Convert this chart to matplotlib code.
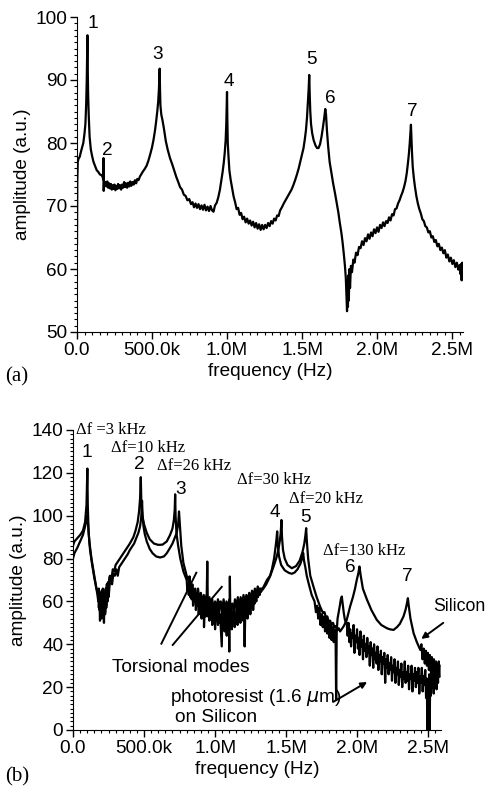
import matplotlib
matplotlib.use("Agg")
import matplotlib.pyplot as plt
from matplotlib.ticker import MultipleLocator

plt.rcParams['font.family'] = ['Liberation Sans', 'DejaVu Sans']

# ---------------- panel (a) data: (frequency kHz, amplitude a.u.) ----------------
a_points = [
    (0, 64), (2, 74), (5, 77), (10, 77.5), (18, 77.8), (25, 78.5), (33, 79.2), (42, 80),
    (50, 81.5), (56, 83), (61, 86), (65, 90), (68, 95), (69.5, 97.1), (71, 93), (74, 88),
    (78, 84.5), (84, 81), (92, 79), (100, 78), (110, 77), (121, 76.3), (131, 75.7),
    (142, 75.4), (153, 75), (164, 74.9), (171, 74.6), (175, 74.2), (176.5, 77.6),
    (178, 72.4), (180, 74), (185, 73.3), (190, 73.8), (196, 73.1), (202, 73.9), (208, 72.9),
    (214, 73.6), (220, 72.8), (226, 73.5), (232, 72.6), (238, 73.3), (244, 72.7),
    (250, 73.4), (256, 72.5), (262, 73.2), (268, 72.7), (274, 73.5), (280, 72.8),
    (287, 73.3), (294, 72.6), (300, 73.4), (307, 72.9), (314, 73.8), (320, 73), (327, 73.6),
    (334, 72.9), (341, 73.7), (348, 73.1), (355, 73.9), (362, 73.2), (370, 73.8),
    (378, 73.4), (386, 74.1), (394, 73.6), (402, 74.3), (410, 74.1), (420, 74.7),
    (430, 75.1), (440, 75.5), (452, 75.9), (464, 76.4), (476, 77.2), (488, 78.2),
    (500, 79.3), (510, 80.5), (520, 82), (528, 83.5), (535, 85), (541, 86.5), (546, 88.5),
    (549, 90.5), (551, 91.8), (553, 89), (556, 86), (562, 84.5), (570, 83.6), (580, 82.2),
    (592, 80.3), (605, 78.9), (620, 77.6), (635, 76.6), (650, 75.5), (662, 74.6),
    (675, 73.8), (687, 73), (700, 72.6), (712, 71.8), (724, 71.6), (736, 70.9), (748, 71.1),
    (760, 70.3), (770, 70.6), (780, 69.8), (790, 70.4), (800, 69.7), (810, 70.3),
    (820, 69.5), (830, 70.1), (840, 69.4), (850, 70.2), (860, 69.3), (870, 69.9),
    (880, 69.2), (890, 70), (900, 69.3), (910, 69.1), (920, 70.1), (931, 70.5), (942, 71.4),
    (952, 72.5), (962, 74), (970, 75.3), (978, 76.8), (985, 78.5), (991, 80.5), (995, 83),
    (998, 86), (1000, 88.1), (1002, 84), (1005, 80), (1010, 77.8), (1016, 75.6),
    (1024, 74.2), (1034, 72.8), (1044, 71.5), (1054, 70.6), (1064, 69.5), (1074, 69.7),
    (1084, 68.6), (1094, 68.9), (1104, 67.9), (1114, 68.3), (1124, 67.4), (1134, 68),
    (1144, 67.2), (1154, 67.7), (1164, 66.9), (1174, 67.5), (1184, 66.6), (1194, 67.3),
    (1204, 66.4), (1214, 67.1), (1224, 66.2), (1234, 67), (1244, 66.3), (1254, 67),
    (1264, 66.5), (1274, 67.3), (1284, 66.8), (1294, 67.6), (1304, 67.2), (1314, 68),
    (1324, 67.7), (1334, 68.5), (1344, 68.4), (1354, 69.3), (1366, 69.8), (1378, 70.4),
    (1390, 70.9), (1402, 71.4), (1416, 72), (1430, 72.6), (1442, 73.3), (1454, 74.1),
    (1466, 75), (1478, 76), (1490, 77.2), (1500, 78.2), (1510, 79.2), (1518, 80.5),
    (1526, 82), (1533, 84), (1539, 86.5), (1544, 88.5), (1548, 90.8), (1551, 88),
    (1555, 85), (1560, 83), (1568, 81.5), (1578, 80.4), (1590, 79.6), (1600, 79.2),
    (1610, 79.2), (1620, 79.8), (1630, 81), (1640, 82.6), (1648, 84), (1655, 85.4),
    (1660, 84.5), (1666, 82), (1674, 79.5), (1684, 77), (1696, 75.2), (1708, 73.5),
    (1720, 72), (1731, 70.5), (1742, 69), (1752, 67.3), (1762, 65.8), (1770, 64.3),
    (1778, 62.5), (1786, 60.5), (1792, 58.5), (1797, 55.5), (1800, 53.3), (1803, 57.5),
    (1806, 54), (1809, 59), (1812, 55), (1816, 60), (1820, 57), (1826, 60.5), (1833, 59.5),
    (1842, 61.5), (1850, 61), (1860, 62.6), (1870, 62.2), (1880, 63.5), (1890, 63.3),
    (1900, 64.4), (1910, 63.8), (1920, 64.9), (1930, 64.4), (1940, 65.5), (1950, 64.8),
    (1960, 65.8), (1970, 65.2), (1980, 66.3), (1990, 65.7), (2000, 66.6), (2010, 65.9),
    (2020, 67), (2030, 66.5), (2040, 67.4), (2050, 66.8), (2060, 67.6), (2070, 67.3),
    (2080, 68.2), (2090, 67.7), (2100, 68.7), (2110, 68.5), (2120, 69.5), (2130, 69.6),
    (2140, 70.4), (2150, 70.9), (2160, 71.6), (2170, 72.2), (2180, 73), (2190, 74),
    (2198, 75.2), (2205, 76.6), (2212, 78.2), (2218, 80), (2222, 81.5), (2226, 82.9),
    (2229, 81), (2233, 78.5), (2238, 76.2), (2245, 74.5), (2253, 73), (2262, 71.6),
    (2272, 70.4), (2282, 69.5), (2292, 68.8), (2302, 67.9), (2312, 67.6), (2322, 66.8),
    (2332, 66.6), (2342, 65.8), (2352, 66), (2362, 65), (2372, 65.2), (2382, 64.3),
    (2392, 64.6), (2402, 63.6), (2412, 64), (2422, 63), (2432, 63.4), (2442, 62.5),
    (2452, 63), (2462, 61.8), (2472, 62.3), (2482, 61.2), (2492, 61.8), (2502, 60.8),
    (2512, 61.4), (2522, 60.3), (2532, 61), (2542, 59.9), (2550, 60.6), (2556, 59.2),
    (2560, 60.8), (2564, 58.2), (2568, 61), (2572, 59),
]
a_freq = [p[0] for p in a_points]
a_amp = [p[1] for p in a_points]

a_peak_labels = ['1', '2', '3', '4', '5', '6', '7']
a_peak_freq = [105, 202, 535, 1015, 1565, 1687, 2235]
a_peak_amp = [99, 78.8, 94, 89.7, 93.3, 87.1, 85]

# ---------------- panel (b) data ----------------
# Silicon
si_points = [
    (0, 80), (10, 82.5), (30, 85), (50, 88), (70, 91), (85, 95), (95, 98), (100, 100),
    (106, 96), (115, 88), (130, 80), (145, 74), (160, 68), (172, 63), (178, 60), (182, 66),
    (186, 56), (190, 64), (194, 54), (198, 63), (202, 52), (206, 62), (210, 57), (214, 65),
    (218, 55), (222, 63), (226, 54), (230, 64), (234, 58), (238, 66), (242, 60), (246, 67),
    (252, 63), (258, 68), (265, 70), (275, 68), (284, 73), (295, 72), (305, 75), (315, 72),
    (325, 76), (340, 77.5), (355, 79), (370, 80.5), (385, 82), (400, 84), (415, 85.5),
    (430, 87), (445, 89.5), (460, 92), (472, 95), (480, 99), (486, 107), (490, 100),
    (496, 95), (505, 91.5), (519, 88), (540, 84.5), (560, 82.5), (585, 81), (613, 80.5),
    (640, 81), (660, 82.5), (683, 85), (700, 87), (715, 89.5), (730, 92), (740, 96),
    (746, 102), (750, 98), (755, 93), (762, 86), (777, 78), (800, 72), (824, 68), (850, 65),
    (871, 63), (880, 66), (890, 60), (900, 64), (910, 58), (920, 63), (930, 59), (940, 63),
    (950, 57), (960, 62), (970, 56), (980, 61), (990, 55), (1000, 60), (1010, 56),
    (1020, 61), (1030, 55), (1040, 60), (1050, 56), (1060, 61), (1070, 55), (1080, 60),
    (1090, 56), (1100, 61), (1110, 55), (1120, 59), (1130, 56), (1140, 61), (1150, 57),
    (1160, 62), (1170, 57), (1180, 62), (1190, 58), (1200, 63), (1210, 59), (1220, 63),
    (1230, 60), (1240, 64), (1250, 61), (1260, 65), (1270, 62), (1280, 66), (1290, 63),
    (1300, 67), (1317, 64), (1340, 66), (1360, 68), (1387, 71.7), (1410, 76), (1430, 80),
    (1445, 84), (1455, 88), (1462, 92), (1467, 98), (1471, 90), (1478, 84), (1490, 80),
    (1510, 77), (1540, 75.5), (1570, 76.5), (1595, 79), (1615, 83), (1628, 87), (1636, 91),
    (1641, 94.2), (1646, 88), (1655, 80), (1670, 72), (1692, 67), (1715, 62), (1739, 57.6),
    (1750, 56), (1760, 54.5), (1770, 55), (1780, 52.5), (1790, 53), (1800, 50.5),
    (1810, 51), (1820, 49), (1830, 50), (1840, 48), (1850, 48.5), (1860, 46.5),
    (1870, 47.5), (1880, 46), (1904, 48.3), (1925, 51), (1950, 57.6), (1970, 62),
    (1985, 66), (1997, 70), (2008, 73), (2016, 76.3), (2025, 72), (2040, 66), (2068, 61),
    (2100, 56), (2138, 51.4), (2170, 49), (2209, 47.5), (2230, 47), (2256, 46.7),
    (2280, 48), (2300, 49.5), (2326, 53), (2340, 56), (2350, 59), (2357, 61.5), (2363, 58),
    (2375, 52), (2397, 45.2), (2420, 41), (2444, 37.4), (2452, 40), (2460, 33), (2468, 38),
    (2476, 31), (2484, 37), (2491, 30), (2498, 36), (2505, 28), (2512, 35), (2519, 27),
    (2526, 34), (2533, 26), (2540, 33), (2547, 25), (2554, 32), (2561, 24), (2568, 31),
    (2575, 25), (2580, 30),
]
si_freq = [p[0] for p in si_points]
si_amp = [p[1] for p in si_points]

# Photoresist (1.6 um) on Silicon
pr_points = [
    (0, 86), (10, 88), (30, 89.5), (50, 91), (70, 93), (85, 97), (95, 105), (101, 122),
    (104, 105), (110, 92), (120, 84), (135, 77), (150, 71), (165, 66), (178, 64), (182, 57),
    (186, 62), (190, 51), (194, 63), (198, 55), (202, 65), (206, 53), (210, 66), (214, 56),
    (218, 50), (222, 63), (226, 55), (230, 66), (234, 57), (238, 68), (242, 60), (246, 69),
    (250, 62), (255, 71), (260, 72), (270, 70), (280, 75), (290, 74), (300, 77),
    (315, 78.5), (330, 80), (345, 81.5), (360, 83), (380, 85), (400, 87), (425, 90),
    (440, 93), (455, 97), (465, 102), (472, 108), (477, 118), (481, 106), (488, 100),
    (500, 96), (519, 92), (540, 89), (570, 87), (600, 86.4), (630, 86.5), (660, 88),
    (683, 91), (700, 94), (710, 98), (716, 103), (719, 110), (722, 100), (728, 92),
    (740, 86), (755, 80), (777, 74),
    (800, 70), (805, 65), (810, 68), (815, 63), (820, 71.7), (825, 62), (830, 66), (835, 61),
    (840, 68), (845, 58), (850, 64), (855, 60), (860, 66), (865, 56), (870, 62), (875, 58),
    (880, 64), (885, 54), (890, 61), (895, 57), (900, 63), (905, 52), (910, 59), (915, 55),
    (920, 61), (922, 48), (926, 56), (930, 62), (935, 53), (940, 58), (945, 78.6), (950, 53),
    (955, 60), (960, 51), (965, 57), (970, 54), (975, 61), (980, 49), (985, 58), (990, 52),
    (995, 56), (1000, 47), (1005, 58), (1010, 51), (1015, 55), (1020, 49), (1025, 60),
    (1030, 50), (1035, 54), (1040, 48), (1047, 39), (1052, 57), (1057, 50), (1062, 55),
    (1067, 46), (1072, 58), (1077, 51), (1082, 44), (1087, 56), (1092, 49), (1097, 54),
    (1100, 36.6), (1104, 71.6), (1108, 50), (1113, 56), (1118, 47), (1123, 55), (1128, 51),
    (1133, 58), (1138, 48), (1143, 54), (1148, 50), (1153, 59), (1158, 49), (1163, 56),
    (1168, 52), (1173, 58), (1178, 50), (1183, 60), (1188, 53), (1193, 57), (1198, 51),
    (1203, 60), (1208, 39), (1213, 58), (1218, 54), (1223, 61), (1228, 52), (1233, 59),
    (1238, 56), (1243, 62), (1248, 54), (1253, 60), (1258, 57), (1263, 63), (1268, 56),
    (1273, 61), (1278, 59), (1283, 64), (1290, 60), (1296, 65), (1302, 62), (1308, 66),
    (1314, 63), (1320, 66),
    (1335, 66), (1350, 68), (1365, 70), (1387, 72), (1400, 75), (1415, 80), (1425, 85),
    (1432, 89), (1437, 92.7), (1442, 86), (1450, 81), (1465, 77), (1490, 74.5),
    (1520, 73.3), (1540, 72.9), (1560, 73.5), (1580, 75), (1600, 77.5), (1612, 80),
    (1620, 82.6), (1626, 79), (1635, 76), (1645, 72), (1660, 68), (1680, 63), (1700, 60),
    (1710, 55), (1718, 58), (1726, 52), (1734, 57), (1742, 49), (1750, 54), (1758, 48),
    (1766, 53), (1774, 46), (1782, 52), (1790, 45), (1798, 51), (1805, 43), (1812, 49),
    (1820, 42), (1828, 48), (1835, 41), (1842, 47), (1848, 44), (1852, 14), (1856, 46),
    (1862, 52), (1870, 55), (1878, 58), (1885, 61), (1892, 62.3), (1898, 59), (1905, 55),
    (1912, 52), (1920, 50),
    (1927, 49.8), (1933, 44), (1939, 50), (1945, 41), (1951, 47), (1957, 39), (1963, 45),
    (1969, 43), (1975, 49), (1981, 36), (1987, 44), (1993, 41), (1999, 47), (2005, 38),
    (2011, 43), (2017, 35), (2023, 46), (2029, 39), (2035, 42), (2041, 33), (2047, 44),
    (2053, 37), (2059, 40), (2065, 34), (2071, 43), (2077, 36), (2083, 39), (2089, 30),
    (2095, 41), (2101, 35), (2107, 38), (2113, 29), (2119, 40), (2125, 33), (2131, 36),
    (2137, 31), (2143, 39), (2149, 28), (2155, 35), (2161, 32), (2167, 37), (2173, 26),
    (2179, 34), (2185, 31), (2191, 36), (2197, 22), (2203, 33), (2209, 29), (2215, 35),
    (2221, 26), (2227, 31), (2233, 28), (2239, 34), (2245, 23), (2251, 30), (2257, 27),
    (2263, 33), (2269, 22), (2275, 29), (2281, 26), (2287, 32), (2293, 21), (2299, 28),
    (2305, 25), (2311, 31), (2317, 20), (2323, 27), (2329, 24), (2335, 32), (2341, 22),
    (2347, 27), (2353, 23), (2359, 30), (2365, 19), (2371, 26), (2377, 24), (2383, 30),
    (2389, 18), (2395, 26), (2401, 23), (2407, 29), (2413, 20), (2419, 27), (2425, 22),
    (2431, 29), (2437, 17), (2443, 25), (2449, 22), (2455, 29), (2461, 18), (2467, 25),
    (2473, 21), (2479, 28), (2485, 15), (2490, 24), (2494, 0), (2498, 22), (2503, 17),
    (2507, 26), (2510, 0), (2514, 24), (2519, 16), (2524, 28), (2529, 20), (2534, 30),
    (2539, 17), (2544, 27), (2549, 21), (2554, 31), (2559, 19), (2564, 29), (2569, 22),
    (2574, 32), (2580, 25),
]
pr_freq = [p[0] for p in pr_points]
pr_amp = [p[1] for p in pr_points]

b_peak_labels = ['1', '2', '3', '4', '5', '6', '7']
b_peak_freq = [96, 467, 761, 1423, 1634, 1950, 2354]
b_peak_amp = [129.5, 123.8, 112, 101.5, 99, 75.7, 71.5]

df_labels = ['Δf =3 kHz', 'Δf=10 kHz', 'Δf=26 kHz', 'Δf=30 kHz', 'Δf=20 kHz', 'Δf=130 kHz']
df_freq = [21, 268, 592, 1155, 1521, 1761]
df_amp = [140, 131.8, 123, 116.8, 108, 83.6]

x_ticks = [0, 500, 1000, 1500, 2000, 2500]
x_ticklabels = ['0.0', '500.0k', '1.0M', '1.5M', '2.0M', '2.5M']

# ---------------- figure ----------------
W, H = 489, 791
fig = plt.figure(figsize=(W / 100, H / 100), dpi=100)

FS = 13.7
LW = 1.6
SERIF = ['Liberation Serif', 'DejaVu Serif']


def style_axes(ax):
    for s in ('top', 'right'):
        ax.spines[s].set_visible(False)
    ax.tick_params(which='major', direction='out', length=5, width=1, labelsize=FS, pad=2)
    ax.tick_params(which='minor', direction='out', length=2.5, width=0.8)
    ax.set_xticks(x_ticks)
    ax.set_xticklabels(x_ticklabels)
    ax.xaxis.set_minor_locator(MultipleLocator(50))


# panel (a)
ax1 = fig.add_axes([77 / W, 1 - 332 / H, 386 / W, 315 / H])
ax1.plot(a_freq, a_amp, color='black', lw=LW)
ax1.set_xlim(0, 2573)
ax1.set_ylim(50, 100)
style_axes(ax1)
ax1.set_yticks([50, 60, 70, 80, 90, 100])
ax1.yaxis.set_minor_locator(MultipleLocator(1))
ax1.set_xlabel('frequency (Hz)', fontsize=FS, labelpad=3)
ax1.set_ylabel('amplitude (a.u.)', fontsize=FS, labelpad=3)
for lab, fx, fy in zip(a_peak_labels, a_peak_freq, a_peak_amp):
    ax1.text(fx, fy, lab, fontsize=FS, ha='center', va='center', clip_on=False)
fig.text(5 / W, 1 - 377 / H, '(a)', fontsize=15, family=SERIF, va='center', ha='left')

# panel (b)
ax2 = fig.add_axes([73 / W, 1 - 730 / H, 368 / W, 300 / H])
ax2.plot(si_freq, si_amp, color='black', lw=LW)
ax2.plot(pr_freq, pr_amp, color='black', lw=LW)
ax2.set_xlim(0, 2590)
ax2.set_ylim(0, 140)
style_axes(ax2)
ax2.set_yticks([0, 20, 40, 60, 80, 100, 120, 140])
ax2.yaxis.set_minor_locator(MultipleLocator(2))
ax2.set_xlabel('frequency (Hz)', fontsize=FS, labelpad=3)
ax2.set_ylabel('amplitude (a.u.)', fontsize=FS, labelpad=3)
for lab, fx, fy in zip(b_peak_labels, b_peak_freq, b_peak_amp):
    ax2.text(fx, fy, lab, fontsize=FS, ha='center', va='center', clip_on=False)
for lab, fx, fy in zip(df_labels, df_freq, df_amp):
    ax2.text(fx, fy, lab, fontsize=12, family=SERIF, ha='left', va='center', clip_on=False)

# torsional modes annotation
ax2.text(760, 29, 'Torsional modes', fontsize=FS, ha='center', va='center')
ax2.plot([622, 868], [40.3, 73.4], color='black', lw=1.4)
ax2.plot([702, 1047], [39.7, 66.8], color='black', lw=1.4)

# photoresist annotation
ax2.text(683, 15.4, r'photoresist (1.6 $\mu$m)', fontsize=FS, ha='left', va='center')
ax2.text(718, 5.6, 'on Silicon', fontsize=FS, ha='left', va='center')
ax2.annotate('', xy=(2070, 22.4), xytext=(1831, 13.1),
             arrowprops=dict(arrowstyle='-|>', color='black', lw=1.4, mutation_scale=9,
                             shrinkA=0, shrinkB=0))

# silicon annotation
ax2.text(2536, 57.5, 'Silicon', fontsize=12.8, ha='left', va='center', clip_on=False)
ax2.annotate('', xy=(2451, 42.5), xytext=(2606, 50), annotation_clip=False,
             arrowprops=dict(arrowstyle='-|>', color='black', lw=1.4, mutation_scale=9,
                             shrinkA=0, shrinkB=0))

fig.text(5 / W, 1 - 777 / H, '(b)', fontsize=15, family=SERIF, va='center', ha='left')

fig.savefig('out.png', dpi=100)
